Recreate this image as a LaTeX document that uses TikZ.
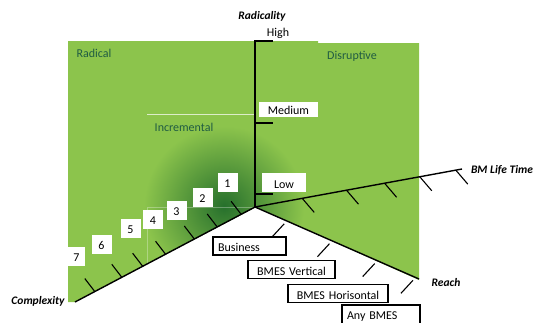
\documentclass[tikz,border=0pt]{standalone}
\usepackage{fontspec}
\setmainfont{Carlito}
\usepackage{xcolor}
\definecolor{Leaf}{RGB}{140,196,76}
\definecolor{Moss}{RGB}{38,112,44}
\definecolor{Zone}{RGB}{32,92,66}
\usetikzlibrary{calc}
\tikzstyle{Axis}=[draw=black,line width=1.4pt]
\tikzstyle{Tick}=[draw=black,line width=1.1pt]
\tikzstyle{AxisName}=[font=\fontsize{11.5}{13}\selectfont\bfseries\itshape]
\tikzstyle{ZoneName}=[text=Zone,font=\fontsize{12}{14}\selectfont]
\tikzstyle{Level}=[fill=white,inner sep=0pt,font=\fontsize{12}{14}\selectfont]
\tikzstyle{NumBox}=[fill=white,inner sep=0pt,minimum width=20pt,minimum height=19pt,
text height=14pt,text depth=4pt,font=\fontsize{12}{14}\selectfont]
\tikzstyle{ReachBox}=[draw=black,fill=white,line width=1.1pt,inner xsep=5pt,inner ysep=0pt,
text height=14.5pt,text depth=3.5pt,font=\fontsize{12}{14}\selectfont]

\begin{document}
\begin{tikzpicture}[x=1pt,y=-1pt]
    \useasboundingbox(0,0)rectangle(535,322);
    % green field
    \fill[Leaf](68,41)--(318,41)--(318,43)--(419,43)--(419,280)--(256,207)--(75,302)--(68,302)--cycle;
    \begin{scope}
        \clip(68,41)--(318,41)--(318,43)--(419,43)--(419,280)--(256,207)--(75,302)--(68,302)--cycle;
        \shade[inner color=Moss,outer color=Leaf](224,206)circle(80);
    \end{scope}
    \draw[white,opacity=.7,line width=1pt](147,114)--(255,114);
    \draw[white,opacity=.3,line width=.6pt](147,268)--(147,207)--(255,207);
    % axes
    \coordinate(o)at(255,207);
    \coordinate(hi)at(255,40);
    \coordinate(life)at(462,169);
    \coordinate(reach)at(419,279);
    \coordinate(cplx)at(75,302);
    \draw[Axis](o)--(hi);
    \draw[Axis](o)--(life);
    \draw[Axis](o)--(reach);
    \draw[Axis](o)--(cplx);
    % ticks
    \foreach \y in {41,123,194}
        \draw[Tick](255,\y)--(273,\y);
    \foreach \t in {0.228,0.442,0.626,0.796,0.97}
        \draw[Tick]($(o)!\t!(life)$)--++(12,14);
    \foreach \t in {0.178,0.454,0.73,0.963}
        \draw[Tick]($(o)!\t!(reach)+(0,4)$)--++(-12,13);
    \foreach \t in {0.077,0.21,0.337,0.497,0.624,0.74,0.89}
        \draw[Tick]($(o)!\t!(cplx)$)--++(-10,-13);
    % levels
    \node[Level,minimum width=59pt,minimum height=15pt,text height=12.5pt,text depth=2.5pt](medium)at(288.5,109.5){Medium};
    \node[Level,minimum width=44pt,minimum height=19pt,text height=15pt,text depth=4pt](low)at(284,182.5){Low};
    \node[NumBox](n1)at(227.5,182.5){1};
    \node[NumBox](n2)at(202.5,197.5){2};
    \node[NumBox](n3)at(176.5,210){3};
    \node[NumBox](n4)at(153,219){4};
    \node[NumBox](n5)at(130.5,228.5){5};
    \node[NumBox](n6)at(101.5,244){6};
    \node[NumBox,minimum width=17pt](n7)at(76.5,256){7};
    \node[ReachBox,text width=63pt,align=left](business)at(249.5,246){Business};
    \node[ReachBox,text width=77pt,align=center](vertical)at(291.5,269.5){BMES Vertical};
    \node[ReachBox,text width=90pt,align=center](horisontal)at(338,293.5){BMES Horisontal};
    \node[ReachBox,text width=68pt,align=left,text height=14pt,text depth=5pt](any)at(381,314.5){Any BMES};
    % names
    \node[AxisName](radicality)at(262,16){Radicality};
    \node[font=\fontsize{12}{14}\selectfont](high)at(278,33){High};
    \node[AxisName](lifetime)at(502,170){BM Life Time};
    \node[AxisName](reachname)at(446,283){Reach};
    \node[AxisName](complexity)at(38,301){Complexity};
    \node[ZoneName](radical)at(94,53){Radical};
    \node[ZoneName](disruptive)at(352,56){Disruptive};
    \node[ZoneName](incremental)at(184,127){Incremental};
\end{tikzpicture}
\end{document}
